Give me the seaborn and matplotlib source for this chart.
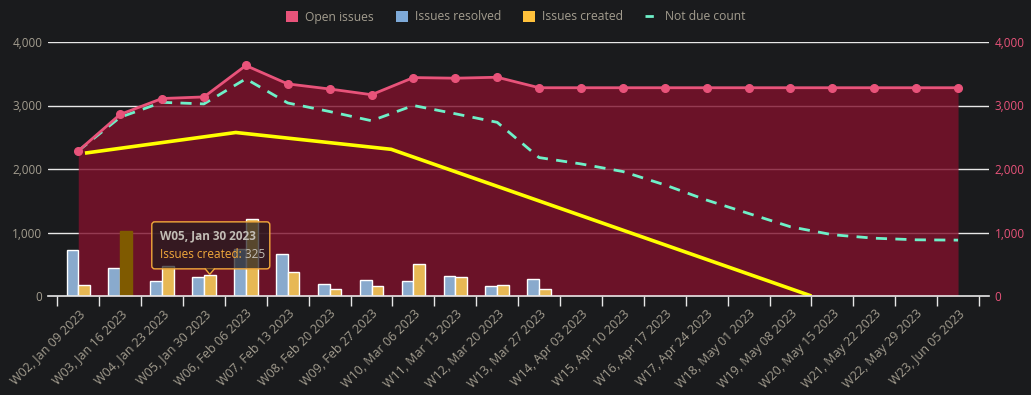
import numpy as np
import pandas as pd
import matplotlib
matplotlib.use("Agg")
import matplotlib.pyplot as plt
import seaborn as sns
from matplotlib.patches import Patch, FancyBboxPatch, Polygon
from matplotlib.lines import Line2D
from matplotlib.transforms import ScaledTranslation

# ---------------- data ----------------
weeks = ["W02, Jan 09 2023", "W03, Jan 16 2023", "W04, Jan 23 2023", "W05, Jan 30 2023",
         "W06, Feb 06 2023", "W07, Feb 13 2023", "W08, Feb 20 2023", "W09, Feb 27 2023",
         "W10, Mar 06 2023", "W11, Mar 13 2023", "W12, Mar 20 2023", "W13, Mar 27 2023",
         "W14, Apr 03 2023", "W15, Apr 10 2023", "W16, Apr 17 2023", "W17, Apr 24 2023",
         "W18, May 01 2023", "W19, May 08 2023", "W20, May 15 2023", "W21, May 22 2023",
         "W22, May 29 2023", "W23, Jun 05 2023"]
open_issues = [2285, 2860, 3110, 3135, 3630, 3340, 3260, 3170, 3440, 3430, 3445, 3280,
               3280, 3280, 3280, 3280, 3280, 3280, 3280, 3280, 3280, 3280]
not_due = [2285, 2815, 3050, 3025, 3420, 3040, 2905, 2760, 3000, 2870, 2735, 2180,
           2080, 1960, 1750, 1510, 1300, 1090, 965, 910, 885, 880]
resolved_weeks = weeks[:12]
issues_resolved = [720, 435, 230, 295, 740, 655, 185, 250, 230, 310, 152, 262]
issues_created = [168, 1016, 471, 325, 1220, 372, 105, 152, 497, 293, 168, 105]
trend_x = [0.16, 3.76, 7.47, 17.5]
trend_y = [2250, 2575, 2310, 0]
y_ticks = [0, 1000, 2000, 3000, 4000]

# ---------------- style ----------------
BG = "#1a1b1d"
TXT = "#a39d8f"
PINK = "#e8537a"
BLUE = "#7eaad8"
YEL = "#ffc13b"
TEAL = "#6ef0c8"

sns.set_theme(style="dark")
plt.rcParams["font.family"] = ["Open Sans", "DejaVu Sans"]

fig = plt.figure(figsize=(10.31, 3.95), dpi=100, facecolor=BG)
ax = fig.add_axes([48 / 1031, 1 - 296 / 395, (989 - 48) / 1031, (296 - 42) / 395])
ax.set_facecolor(BG)

n = len(weeks)
x = np.arange(n)

# gridlines
for t in y_ticks[1:]:
    ax.axhline(t, color="#e8e8e8", lw=1, zorder=0)

# area for open issues
ax.fill_between(x, 0, open_issues, color="#80102c", alpha=0.8, lw=0, zorder=1)

# bars
df = pd.DataFrame({
    "week": resolved_weeks * 2,
    "value": issues_resolved + issues_created,
    "series": ["Issues resolved"] * len(resolved_weeks) + ["Issues created"] * len(resolved_weeks),
})
sns.barplot(data=df, x="week", y="value", hue="series", order=weeks,
            hue_order=["Issues resolved", "Issues created"],
            palette=[BLUE, YEL], width=0.56, dodge=True, gap=0,
            edgecolor="white", linewidth=1, legend=False, ax=ax, zorder=2)
# dimmed bar (W03 created)
created_bars = ax.containers[1]
created_bars[1].set_facecolor("#7f5a00")
created_bars[1].set_edgecolor("#7f5a00")

# lines
ax.plot(x, open_issues, color=PINK, lw=2, marker="o", ms=5.5, zorder=4)
ax.plot(x, not_due, color=TEAL, lw=2, dashes=(4, 3), zorder=3)
ax.plot(trend_x, trend_y, color="#ffff00", lw=2.6, zorder=3, solid_capstyle="butt")

# axes
ax.set_xlim(-0.5 - 9.3 / 41.9, n - 0.5 + 10 / 41.9)
ax.set_ylim(0, 4000)
ax.set_xlabel("")
ax.set_ylabel("")
for s in ["top", "left", "right"]:
    ax.spines[s].set_visible(False)
ax.spines["bottom"].set_color("#e8e8e8")
ax.spines["bottom"].set_linewidth(1.2)
ax.spines["bottom"].set_zorder(5)
ax.grid(False)

ax.set_xticks(x)
ax.set_xticklabels(weeks, rotation=45, ha="right", rotation_mode="anchor",
                   color=TXT, fontsize=9)
ax.tick_params(axis="x", length=0, pad=8)
ax.set_xticks(np.arange(-0.5, n, 1), minor=True)
ax.tick_params(axis="x", which="minor", length=7, width=1, color="#e8e8e8", bottom=True)

ax.set_yticks(y_ticks)
ax.set_yticklabels([f"{v:,}" for v in y_ticks], color=TXT, fontsize=8.5)
ax.tick_params(axis="y", length=0, pad=4)

ax2 = ax.twinx()
ax2.set_ylim(0, 4000)
ax2.set_yticks(y_ticks)
ax2.set_yticklabels([f"{v:,}" for v in y_ticks], color=PINK, fontsize=8.5)
ax2.tick_params(axis="y", length=0, pad=4)
ax2.grid(False)
for s in ax2.spines.values():
    s.set_visible(False)

# tooltip at W05 created bar
bx = 3 + 0.56 / 4
by = issues_created[3]
tr = fig.dpi_scale_trans + ScaledTranslation(bx, by, ax.transData)
box = FancyBboxPatch((-0.58, 0.065), 1.18, 0.47,
                     boxstyle="round,pad=0,rounding_size=0.03",
                     transform=tr, fc=(0.13, 0.11, 0.12, 0.72), ec="#f2a93b",
                     lw=1, zorder=10, clip_on=False)
ax.add_artist(box)
ptr = Polygon([(-0.05, 0.07), (0.0, 0.01), (0.05, 0.07)], closed=False,
              transform=tr, fc=(0.13, 0.11, 0.12, 0.72), ec="#f2a93b", lw=1,
              zorder=11, clip_on=False)
ax.add_artist(ptr)
ax.text(-0.5, 0.39, "W05, Jan 30 2023", transform=tr, color="#c2bdb5",
        fontsize=8.5, fontweight="bold", va="center", ha="left", zorder=12)
t1 = ax.text(-0.5, 0.21, "Issues created:", transform=tr, color="#f2a93b",
             fontsize=8.5, va="center", ha="left", zorder=12)
ax.annotate(" 325", xy=(1, 0.5), xycoords=t1, color="#c2bdb5", fontsize=8.5,
            va="center", ha="left", zorder=12)

# legend
handles = [Patch(facecolor=PINK, edgecolor="none"),
           Patch(facecolor=BLUE, edgecolor="none"),
           Patch(facecolor=YEL, edgecolor="none"),
           Line2D([0], [0], color=TEAL, lw=2, dashes=(3, 2.5))]
labels = ["Open issues", "Issues resolved", "Issues created", "Not due count"]
leg = fig.legend(handles, labels, loc="center", bbox_to_anchor=(0.5, 1 - 17 / 395),
                 ncol=4, frameon=False, fontsize=8.7, handlelength=1.0,
                 handleheight=1.0, handletextpad=0.6, columnspacing=1.8,
                 labelcolor=TXT)

fig.savefig("out.png", dpi=100, facecolor=BG)
